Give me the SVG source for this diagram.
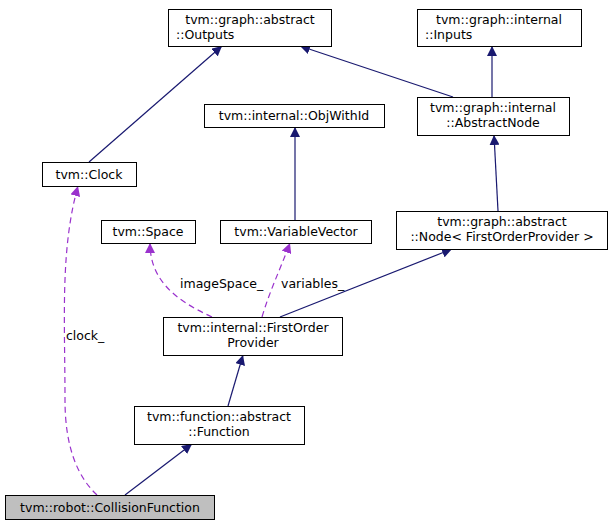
<svg xmlns="http://www.w3.org/2000/svg" width="612" height="529" viewBox="0 0 612 529">
<defs>
<style>
.n rect{fill:#fff;stroke:#000;stroke-width:1}
text{font-family:"DejaVu Sans",sans-serif;font-size:12.5px;fill:#000}
.t{text-anchor:middle}
.e{fill:none;stroke:#191970;stroke-width:1.2}
.d{fill:none;stroke:#9a32cd;stroke-width:1.2;stroke-dasharray:6,4}
</style>
<marker id="a" viewBox="0 0 10 10" refX="10" refY="5" markerWidth="10" markerHeight="10" markerUnits="userSpaceOnUse" orient="auto"><path d="M0,0L10,5L0,10z" fill="#191970"/></marker>
<marker id="p" viewBox="0 0 10 10" refX="10" refY="5" markerWidth="10" markerHeight="10" markerUnits="userSpaceOnUse" orient="auto"><path d="M0,0L10,5L0,10z" fill="#9a32cd"/></marker>
</defs>
<rect width="612" height="529" fill="#fff"/>
<g id="edges">
<path class="e" d="M89,162L222,46" marker-end="url(#a)"/>
<path class="e" d="M492,97L492,46" marker-end="url(#a)"/>
<path class="e" d="M453,97L300,46" marker-end="url(#a)"/>
<path class="e" d="M295,220L295,127" marker-end="url(#a)"/>
<path class="e" d="M498,211L494,135" marker-end="url(#a)"/>
<path class="e" d="M280,317L452,249" marker-end="url(#a)"/>
<path class="e" d="M228,406L243,355" marker-end="url(#a)"/>
<path class="e" d="M125,495L192,444" marker-end="url(#a)"/>
<path class="d" d="M97,495C70,470 65,430 65,400C65,320 60,250 78,186" marker-end="url(#p)"/>
<path class="d" d="M212,317C175,300 150,280 150,243" marker-end="url(#p)"/>
<path class="d" d="M262,317C270,290 280,270 290,243" marker-end="url(#p)"/>
<text x="66" y="340">clock_</text>
<text x="180" y="288">imageSpace_</text>
<text x="281" y="288">variables_</text>
</g>
<g id="Outputs" class="n"><rect x="168.5" y="9.5" width="163" height="37"/><text class="t" x="250" y="24">tvm::graph::abstract</text><text x="176" y="39">::Outputs</text></g>
<g id="Inputs" class="n"><rect x="417.5" y="9.5" width="164" height="37"/><text class="t" x="499" y="24">tvm::graph::internal</text><text x="425" y="39">::Inputs</text></g>
<g id="AbstractNode" class="n"><rect x="417.5" y="97.5" width="152" height="38"/><text class="t" x="493" y="112">tvm::graph::internal</text><text class="t" x="493" y="127">::AbstractNode</text></g>
<g id="ObjWithId" class="n"><rect x="204.5" y="104.5" width="180" height="23"/><text class="t" x="294" y="120">tvm::internal::ObjWithId</text></g>
<g id="Clock" class="n"><rect x="42.5" y="162.5" width="94" height="24"/><text class="t" x="89" y="179">tvm::Clock</text></g>
<g id="Space" class="n"><rect x="101.5" y="220.5" width="94" height="23"/><text class="t" x="148" y="236">tvm::Space</text></g>
<g id="VariableVector" class="n"><rect x="220.5" y="220.5" width="151" height="23"/><text class="t" x="296" y="236">tvm::VariableVector</text></g>
<g id="Node" class="n"><rect x="396.5" y="211.5" width="211" height="38"/><text class="t" x="502" y="226">tvm::graph::abstract</text><text class="t" x="502" y="241">::Node&lt; FirstOrderProvider &gt;</text></g>
<g id="FirstOrderProvider" class="n"><rect x="163.5" y="317.5" width="179" height="38"/><text class="t" x="253" y="332">tvm::internal::FirstOrder</text><text class="t" x="253" y="347">Provider</text></g>
<g id="Function" class="n"><rect x="134.5" y="406.5" width="170" height="38"/><text class="t" x="219" y="421">tvm::function::abstract</text><text class="t" x="219" y="436">::Function</text></g>
<g id="CollisionFunction" class="n"><rect x="5.5" y="495.5" width="209" height="24" style="fill:#bfbfbf"/><text class="t" x="110" y="512">tvm::robot::CollisionFunction</text></g>
</svg>
